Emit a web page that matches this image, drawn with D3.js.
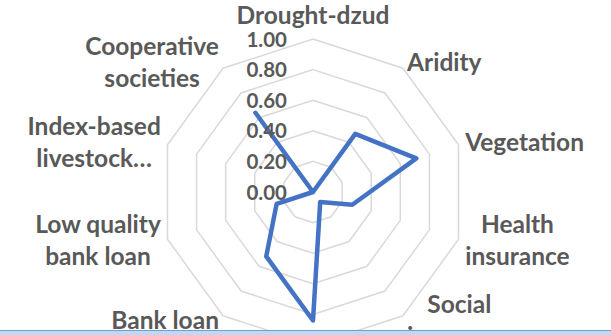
<!DOCTYPE html>
<html>
<head>
<meta charset="utf-8">
<script src="https://cdn.jsdelivr.net/npm/d3@7"></script>
<style>
  html, body { margin: 0; padding: 0; background: #ffffff; }
  svg { display: block; }
  text { font-family: Lato, "Open Sans", sans-serif; font-weight: 700; fill: #595959; }
</style>
</head>
<body>
<svg id="chart" width="611" height="335"></svg>
<script>
// ---- data ----
const categories = [
  "Drought-dzud",
  "Aridity",
  "Vegetation",
  "Health\ninsurance",
  "Social\ninsurance",
  "",
  "Bank loan",
  "Low quality\nbank loan",
  "Index-based\nlivestock…",
  "Cooperative\nsocieties"
];
const values = [0.00, 0.47, 0.71, 0.27, 0.08, 0.84, 0.52, 0.25, 0.00, 0.64];
const tickValues = [0, 0.2, 0.4, 0.6, 0.8, 1.0];
const tickLabels = ["0.00", "0.20", "0.40", "0.60", "0.80", "1.00"];

// ---- layout ----
const W = 611, H = 335;
const cx = 313, cy = 192, R = 153;
const n = categories.length;

const svg = d3.select("#chart");
const r = d3.scaleLinear().domain([0, 1]).range([0, R]);
const ang = d3.scaleLinear().domain([0, n]).range([0, 2 * Math.PI]);

const g = svg.append("g").attr("transform", `translate(${cx},${cy})`);

const radial = d3.lineRadial()
  .angle((d, i) => ang(i))
  .radius(d => r(d))
  .curve(d3.curveLinearClosed);

// grid rings
g.append("g").selectAll("path")
  .data(tickValues.filter(t => t > 0))
  .join("path")
  .attr("d", t => radial(d3.range(n).map(() => t)))
  .attr("fill", "none")
  .attr("stroke", "#d9d9d9")
  .attr("stroke-width", 1.5);

// data polygon
g.append("path")
  .attr("d", radial(values))
  .attr("fill", "none")
  .attr("stroke", "#4472c4")
  .attr("stroke-width", 4.5)
  .attr("stroke-linejoin", "round");

// tick labels
g.append("g").selectAll("text")
  .data(tickValues)
  .join("text")
  .attr("x", -26)
  .attr("y", t => -r(t) + 7.5)
  .attr("text-anchor", "end")
  .attr("font-size", 20.5)
  .text((t, i) => tickLabels[i]);

// category labels
const lineH = 32, fs = 24.5;
const lr = R + 7;
categories.forEach((c, i) => {
  if (!c) return;
  const a = ang(i);
  const s = Math.sin(a), co = Math.cos(a);
  const px = cx + lr * s, py = cy - lr * co;
  const lines = c.split("\n");
  const t = svg.append("text").attr("font-size", fs).attr("text-anchor", "middle");
  const spans = lines.map(l => t.append("tspan").text(l));
  const w = d3.max(spans, sp => sp.node().getComputedTextLength());
  const h = lines.length * lineH;
  let left, top;
  if (s > 0.01) left = px; else if (s < -0.01) left = px - w; else left = px - w / 2;
  if (co > 0.99) top = py - h; else if (co < -0.99) top = py; else top = py - h / 2;
  spans.forEach((sp, k) => sp.attr("x", left + w / 2).attr("y", top + 24 + k * lineH));
});

// bottom blue band (cropped frame edge)
svg.append("rect").attr("x", 0).attr("y", 330).attr("width", W).attr("height", 5).attr("fill", "#c3d8f0");
svg.append("line").attr("x1", 0).attr("x2", W).attr("y1", 330.5).attr("y2", 330.5)
  .attr("stroke", "#6e9fd6").attr("stroke-width", 1);
</script>
</body>
</html>
